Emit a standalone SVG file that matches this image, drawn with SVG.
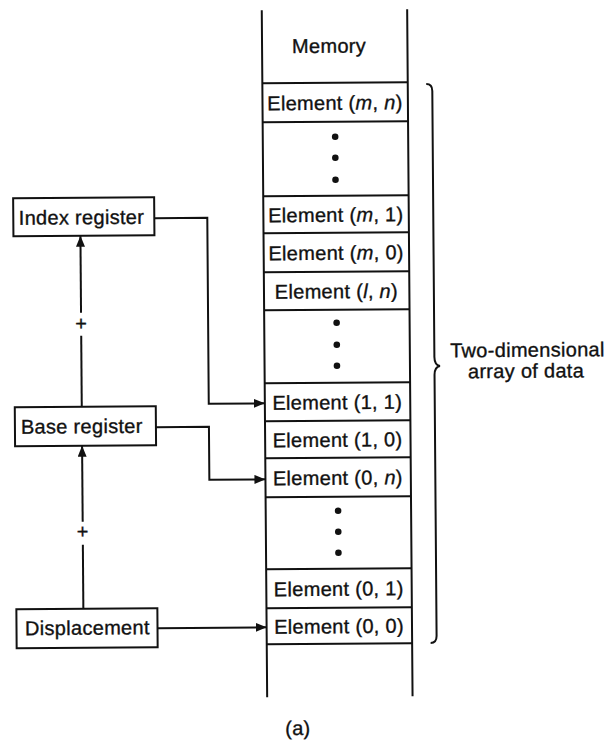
<svg xmlns="http://www.w3.org/2000/svg" width="608" height="742" viewBox="0 0 608 742">
<style>
text{font-family:"Liberation Sans",Arial,Helvetica,sans-serif;font-size:20px;letter-spacing:0.3px;fill:#111;stroke:#111;stroke-width:0.35px}
.m{text-anchor:middle}
.i{font-style:italic}
.ln{stroke:#111;stroke-width:2;fill:none}
.box{stroke:#111;stroke-width:2;fill:#fff}
.dot{fill:#111}
</style>
<defs>
<marker id="ah" markerUnits="userSpaceOnUse" markerWidth="11" markerHeight="9" refX="11" refY="4.5" orient="auto">
<path d="M0,0 L11,4.5 L0,9 z" fill="#111"/>
</marker>
</defs>
<rect width="608" height="742" fill="#fff"/>
<g transform="rotate(-0.45 304 371)">
<g id="memory">
<path class="ln" d="M264.6,10 V697 M410,10 V697"/>
<text class="m" x="331.6" y="53">Memory</text>
<path class="ln" d="M264.6,83 H410 M264.6,122 H410 M264.6,196 H410 M264.6,233 H410 M264.6,272 H410 M264.6,310 H410 M264.6,383 H410 M264.6,421 H410 M264.6,458 H410 M264.6,497 H410 M264.6,569 H410 M264.6,608 H410 M264.6,644 H410"/>
<g id="el-mn"><text class="m" x="337" y="110">Element (<tspan class="i">m</tspan>, <tspan class="i">n</tspan>)</text></g>
<g id="dots-1"><circle class="dot" cx="337" cy="137" r="3.3"/><circle class="dot" cx="337" cy="158" r="3.3"/><circle class="dot" cx="337" cy="180" r="3.3"/></g>
<g id="el-m1"><text class="m" x="337" y="222">Element (<tspan class="i">m</tspan>, 1)</text></g>
<g id="el-m0"><text class="m" x="337" y="260">Element (<tspan class="i">m</tspan>, 0)</text></g>
<g id="el-ln"><text class="m" x="337" y="298.5">Element (<tspan class="i">l</tspan>, <tspan class="i">n</tspan>)</text></g>
<g id="dots-2"><circle class="dot" cx="337" cy="323" r="3.3"/><circle class="dot" cx="337" cy="345" r="3.3"/><circle class="dot" cx="337" cy="366" r="3.3"/></g>
<g id="el-11"><text class="m" x="337" y="409.5">Element (1, 1)</text></g>
<g id="el-10"><text class="m" x="337" y="447">Element (1, 0)</text></g>
<g id="el-0n"><text class="m" x="337" y="485">Element (0, <tspan class="i">n</tspan>)</text></g>
<g id="dots-3"><circle class="dot" cx="337" cy="511" r="3.3"/><circle class="dot" cx="337" cy="532" r="3.3"/><circle class="dot" cx="337" cy="553" r="3.3"/></g>
<g id="el-01"><text class="m" x="337" y="596">Element (0, 1)</text></g>
<g id="el-00"><text class="m" x="337" y="633.5">Element (0, 0)</text></g>
</g>
<g id="index-register">
<rect class="box" x="14.5" y="196" width="141" height="38"/>
<text x="20" y="222.5">Index register</text>
</g>
<g id="base-register">
<rect class="box" x="14.5" y="405" width="141" height="39"/>
<text x="20.5" y="431.5">Base register</text>
</g>
<g id="displacement">
<rect class="box" x="14.5" y="607" width="141" height="39"/>
<text x="23" y="633">Displacement</text>
</g>
<g id="connectors">
<path class="ln" d="M155.5,217 H208.5 V403 H264.6" marker-end="url(#ah)"/>
<path class="ln" d="M155.5,426 H208.5 V479 H264.6" marker-end="url(#ah)"/>
<path class="ln" d="M155.5,627 H264.6" marker-end="url(#ah)"/>
<path class="ln" d="M81.5,405 V334"/>
<path class="ln" d="M81.5,311 V234" marker-end="url(#ah)"/>
<text class="m" x="81.5" y="328.5">+</text>
<path class="ln" d="M81.5,607 V543"/>
<path class="ln" d="M81.5,520 V444" marker-end="url(#ah)"/>
<text class="m" x="81.5" y="536.5">+</text>
</g>
<g id="brace">
<path class="ln" d="M428.5,85 Q434.5,85 434.5,92 V358 Q434.5,366 440,367 Q434.5,368 434.5,376 V637 Q434.5,644 428.5,644"/>
<text class="m" x="527.6" y="358.5">Two-dimensional</text>
<text class="m" x="526" y="379.5">array of data</text>
</g>
<text class="m" x="295" y="735">(a)</text>
</g>
</svg>
